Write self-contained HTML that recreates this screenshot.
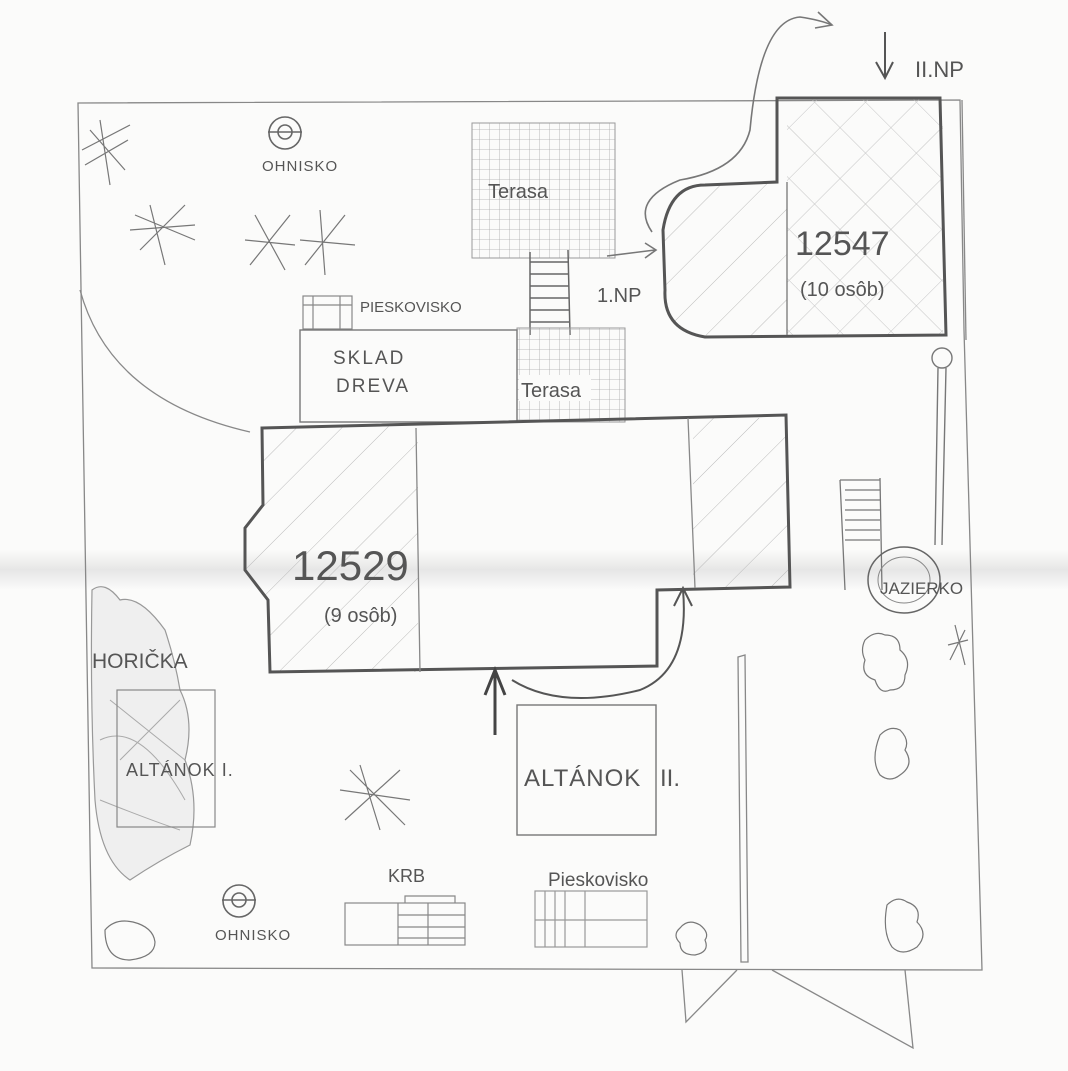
<!DOCTYPE html>
<html><head><meta charset="utf-8"><style>
html,body{margin:0;padding:0;background:#fbfbfa;}
svg{display:block;}
text{font-family:"Liberation Sans",sans-serif;fill:#555;}
</style></head><body>
<svg width="1068" height="1071" viewBox="0 0 1068 1071" xmlns="http://www.w3.org/2000/svg">
<defs>
<pattern id="grid" width="10" height="10" patternUnits="userSpaceOnUse"><path d="M10 0V10M0 10H10" stroke="#aaa" stroke-width="0.8" fill="none"/></pattern>
<pattern id="hatch" width="32" height="32" patternUnits="userSpaceOnUse" patternTransform="rotate(-45)"><path d="M0 0H32" stroke="#bbb" stroke-width="1"/></pattern>
<pattern id="xhatch" width="36" height="36" patternUnits="userSpaceOnUse" patternTransform="rotate(45)"><path d="M0 0H36M0 0V36" stroke="#c4c4c4" stroke-width="1"/></pattern>
<linearGradient id="fold" x1="0" y1="0" x2="0" y2="1"><stop offset="0" stop-color="#fbfbfa"/><stop offset="0.5" stop-color="#e6e6e6"/><stop offset="1" stop-color="#fbfbfa"/></linearGradient>
</defs>
<rect x="0" y="550" width="1068" height="40" fill="url(#fold)"/>
<g fill="none" stroke="#888" stroke-width="1.3">
<!-- outer border -->
<path d="M78 103 L960 100 L964 330 L982 970 L92 968 Z"/>
<path d="M962 100 L966 340"/>
<!-- arc -->
<path d="M80 290 Q110 400 250 432"/>
<!-- bottom lines -->
<path d="M682 970 L686 1022 L737 970 M772 970 L913 1048 L905 970"/>
<!-- vertical path -->
<path d="M738 657 L745 655 L748 962 L741 962 Z"/>
</g>
<!-- Terasa top -->
<rect x="472" y="123" width="143" height="135" fill="url(#grid)" stroke="#999"/>
<text x="488" y="198" font-size="20">Terasa</text>
<!-- ladder -->
<g stroke="#666" stroke-width="1.5" fill="none">
<path d="M530 252 L530 335 M568 250 L570 335"/>
<path d="M530 262H568M530 274H568M530 286H569M530 298H569M530 310H569M530 322H570"/>
</g>
<!-- Terasa second -->
<rect x="517" y="328" width="108" height="94" fill="url(#grid)" stroke="#999"/>
<rect x="519" y="375" width="72" height="26" fill="#fbfbfa"/>
<text x="521" y="397" font-size="20">Terasa</text>
<!-- Pieskovisko top -->
<g stroke="#888" fill="none" stroke-width="1.2"><rect x="303" y="296" width="49" height="33"/><path d="M313 296V329M340 296V329M303 305H352"/></g>
<text x="360" y="312" font-size="15">PIESKOVISKO</text>
<!-- Sklad dreva -->
<rect x="300" y="330" width="217" height="92" fill="none" stroke="#777" stroke-width="1.4"/>
<text x="333" y="364" font-size="19" letter-spacing="2">SKLAD</text>
<text x="336" y="392" font-size="19" letter-spacing="2">DREVA</text>
<!-- 12547 building -->
<path d="M777 182 L787 182 L787 335 L705 337 Q663 330 665 290 L663 230 Q670 185 705 185 Z" fill="url(#hatch)"/>
<rect x="787" y="98" width="156" height="237" fill="url(#xhatch)"/>
<path d="M777 98 L940 98 L946 335 L705 337 Q663 330 665 290 L663 230 Q670 185 705 185 L777 182 Z" fill="none" stroke="#555" stroke-width="3"/>
<path d="M787 182 L787 335" stroke="#777" stroke-width="1.3"/>
<text x="795" y="255" font-size="34" fill="#555">12547</text>
<text x="800" y="296" font-size="20">(10 osôb)</text>
<!-- curvy arrow -->
<path d="M652 232 Q630 200 680 180 Q740 170 750 130 Q760 20 800 17 Q820 20 832 25" fill="none" stroke="#777" stroke-width="1.6"/>
<path d="M818 12 L832 25 L815 28" fill="none" stroke="#777" stroke-width="1.6"/>
<path d="M885 32 L885 78 M876 62 L885 78 L893 62" stroke="#555" stroke-width="2" fill="none"/>
<text x="915" y="77" font-size="22">II.NP</text>
<path d="M607 256 L655 250 M645 243 L656 250 L645 258" stroke="#777" stroke-width="1.6" fill="none"/>
<text x="597" y="302" font-size="20">1.NP</text>
<!-- main building -->
<path d="M262 428 L418 426 L418 672 L268 672 L268 600 L245 570 L245 528 L263 505 Z" fill="url(#hatch)"/>
<rect x="693" y="418" width="95" height="170" fill="url(#hatch)"/>
<path d="M262 428 L786 415 L790 587 L657 590 L657 666 L270 672 L268 600 L245 570 L245 528 L263 505 Z" fill="none" stroke="#555" stroke-width="3"/>
<path d="M416 428 L420 672 M688 418 L695 588" stroke="#888" stroke-width="1.3"/>
<text x="292" y="580" font-size="42" fill="#555">12529</text>
<text x="324" y="622" font-size="20">(9 osôb)</text>
<!-- arrows -->
<path d="M495 735 L495 672 M485 695 L495 670 L505 695" stroke="#444" stroke-width="3" fill="none"/>
<path d="M512 680 Q560 710 640 690 Q690 670 683 590 M674 606 L683 588 L692 606" stroke="#555" stroke-width="2" fill="none"/>
<!-- Altanok II -->
<rect x="517" y="705" width="139" height="130" fill="none" stroke="#777" stroke-width="1.4"/>
<text x="524" y="786" font-size="24" letter-spacing="1">ALTÁNOK</text>
<text x="660" y="786" font-size="24">II.</text>
<!-- Horicka -->
<path d="M92 590 Q105 580 120 600 Q140 595 165 630 Q175 660 180 690 Q195 720 185 760 Q200 800 190 845 Q160 860 130 880 Q100 860 95 800 Q90 700 92 590 Z" fill="#efefef" stroke="#999" stroke-width="1.2"/>
<g stroke="#aaa" fill="none"><path d="M110 700 L185 760 M120 760 L180 700 M100 740 Q140 720 185 800 M100 800 Q150 820 180 830"/></g>
<text x="92" y="668" font-size="21" fill="#444">HORIČKA</text>
<rect x="117" y="690" width="98" height="137" fill="none" stroke="#888" stroke-width="1.2"/>
<text x="126" y="776" font-size="18" letter-spacing="1">ALTÁNOK I.</text>
<!-- ohnisko -->
<g stroke="#666" fill="none" stroke-width="1.6"><circle cx="285" cy="133" r="16"/><circle cx="285" cy="132" r="7"/><path d="M268 132H302"/><circle cx="239" cy="901" r="16"/><circle cx="239" cy="900" r="7"/><path d="M222 900H256"/></g>
<text x="262" y="171" font-size="15" letter-spacing="1">OHNISKO</text>
<text x="215" y="940" font-size="15" letter-spacing="1">OHNISKO</text>
<!-- KRB -->
<text x="388" y="882" font-size="18">KRB</text>
<g stroke="#888" fill="none" stroke-width="1.2"><rect x="345" y="903" width="120" height="42"/><path d="M398 903V945M428 903V945M398 915H465M398 927H465M398 938H465M405 903V896H455V903"/></g>
<!-- Pieskovisko bottom -->
<text x="548" y="886" font-size="19">Pieskovisko</text>
<g stroke="#999" fill="none" stroke-width="1.2"><rect x="535" y="891" width="112" height="56"/><path d="M545 891V947M555 891V947M565 891V947M585 891V947M535 920H647"/></g>
<!-- right ladder + jazierko -->
<g stroke="#777" fill="none" stroke-width="1.3"><path d="M840 480 L845 590 M880 478 L882 590 M840 480H880"/><path d="M845 490H880M845 500H880M845 510H880M845 520H880M845 530H880M845 540H880"/></g>
<circle cx="942" cy="358" r="10" fill="none" stroke="#777" stroke-width="1.4"/>
<path d="M938 368 L935 545 M946 368 L942 545" stroke="#777" stroke-width="1.4" fill="none"/>
<ellipse cx="904" cy="580" rx="36" ry="33" fill="none" stroke="#666" stroke-width="1.5"/>
<ellipse cx="904" cy="580" rx="26" ry="23" fill="none" stroke="#888" stroke-width="1"/>
<text x="880" y="594" font-size="17" fill="#555">JAZIERKO</text>
<!-- trees / bushes -->
<g stroke="#777" fill="none" stroke-width="1.2">
<path d="M82 150 L130 125 M90 130 L125 170 M100 120 L110 185 M85 165 L128 140"/>
<path d="M135 215 L195 240 M150 205 L165 265 M140 250 L185 205 M130 230 L195 225"/>
<path d="M245 240 L295 245 M255 215 L285 270 M250 265 L290 215"/>
<path d="M300 240 L355 245 M320 210 L325 275 M305 265 L345 215"/>
<path d="M340 790 L410 800 M360 765 L380 830 M345 820 L400 770 M350 770 L405 825"/>
<path d="M865 640 q10 -10 20 -5 q15 0 15 15 q12 10 5 25 q0 15 -15 15 q-10 5 -15 -10 q-15 -5 -10 -20 q-5 -10 0 -20 z"/>
<path d="M880 735 q10 -10 20 -5 q10 10 5 20 q10 15 -5 25 q-10 8 -20 0 q-10 -15 0 -40 z"/>
<path d="M887 905 q10 -10 20 -3 q15 5 10 20 q12 12 0 25 q-15 10 -25 0 q-10 -15 -5 -42 z"/>
<path d="M680 928 q8 -10 20 -3 q10 8 5 15 q5 12 -10 15 q-15 0 -15 -12 q-8 -8 0 -15 z"/>
<path d="M105 930 q10 -12 28 -8 q20 5 22 20 q0 15 -25 18 q-25 0 -25 -30 z"/>
<path d="M955 625 L965 665 M948 645 L968 640 M950 660 L965 630"/>
</g>
</svg>
</body></html>
